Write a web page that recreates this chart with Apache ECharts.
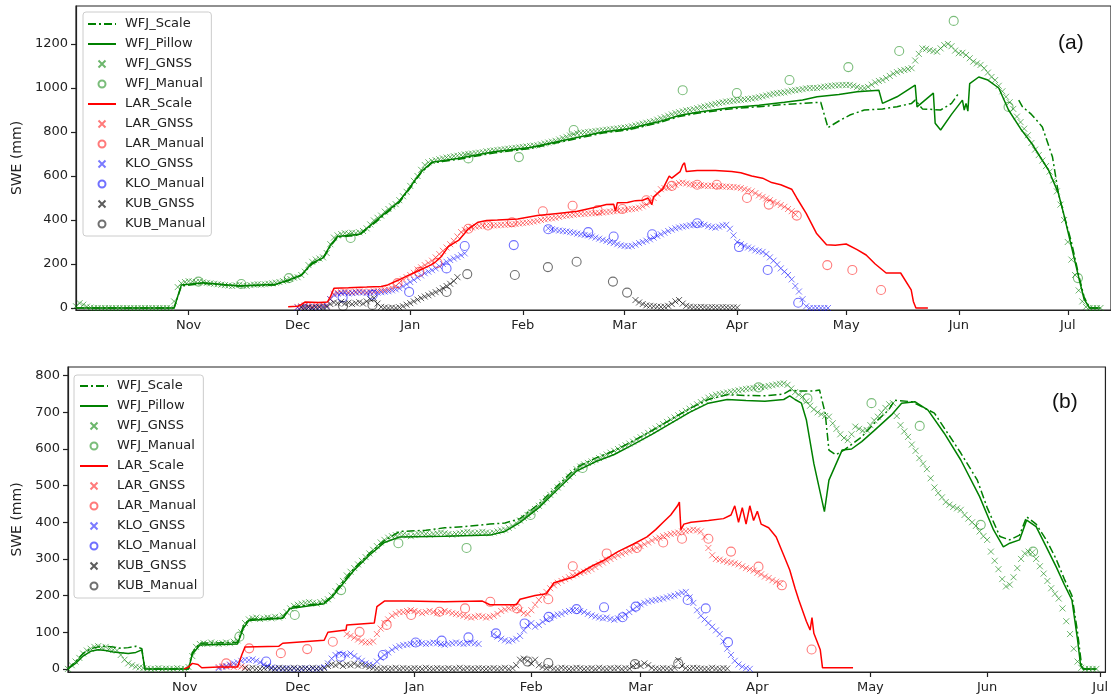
<!DOCTYPE html>
<html>
<head>
<meta charset="utf-8">
<script src="https://cdn.jsdelivr.net/npm/echarts@6/dist/echarts.min.js"></script>
<style>
html,body{margin:0;padding:0;background:#fff;}
#chart{width:1111px;height:696px;}
</style>
</head>
<body>
<div id="chart"></div>
<script>
// ---------- tick labels ----------
const monthNames = ['Nov','Dec','Jan','Feb','Mar','Apr','May','Jun','Jul'];
// day index since 1 Oct of each season
const monthStartsA = [31,61,92,123,151,182,212,243,273];   // panel (a), non-leap
const monthStartsB = [31,61,92,123,152,183,213,244,274];   // panel (b), leap
const yTicksA = [0,200,400,600,800,1000,1200];
const yTicksB = [0,100,200,300,400,500,600,700,800];
const legendNames = ['WFJ_Scale','WFJ_Pillow','WFJ_GNSS','WFJ_Manual','LAR_Scale','LAR_GNSS','LAR_Manual','KLO_GNSS','KLO_Manual','KUB_GNSS','KUB_Manual'];
const lineNames = ['WFJ_Scale','WFJ_Pillow','LAR_Scale'];

// ---------- panel (a) data : [day, SWE] pairs or daily values from a start day ----------
const wfjGnssA_start = 0;
const wfjGnssA = [
 8,22,15,6,2,0,0,0,0,0, 0,0,0,0,0,0,0,0,0,0, 0,0,0,0,0,0,0,30,95,112,
 118,122,120,118,121,117,114,112,110,108, 106,104,102,100,103,106,102,100,104,106,
 108,106,108,110,112,115,118,122,128,132, 138,140,150,165,195,210,220,225,230,250,
 290,320,330,336,340,338,342,340,344,350, 362,380,398,410,420,438,450,462,472,490,
 508,528,555,578,600,628,650,662,668,672, 676,680,684,686,690,692,695,698,700,702,
 704,706,708,712,714,716,718,720,722,724, 726,728,730,732,734,736,738,740,744,748,
 752,756,760,766,772,778,784,790,794,796, 798,800,802,804,806,808,810,812,814,816,
 818,820,822,826,830,834,838,842,846,850, 856,862,868,874,880,886,890,894,898,900,
 904,908,912,916,920,924,928,932,935,938, 940,942,944,946,948,950,952,955,958,962,
 966,970,974,976,978,980,984,988,990,992, 995,998,1000,1000,1000,1003,1006,1008,1010,1012,
 1012,1014,1014,1014,1010,1005,1000,1000,1005,1015, 1025,1032,1036,1045,1055,1065,1072,1078,1082,1086,
 1090,1125,1155,1180,1178,1172,1168,1165,1180,1195, 1200,1190,1170,1158,1160,1150,1135,1120,1112,1105,
 1090,1070,1050,1036,1010,985,960,935,905,870, 845,815,785,750,720,695,670,645,620,580,
 530,470,400,300,220,150,80,30,5,0, 0,0,0
];
const wfjPillowA = [[0,0],[27,0],[29,105],[35,115],[45,100],[55,108],[59,130],[62,150],[65,205],[68,228],[70,285],[72,325],[78,335],[81,375],[85,430],[89,485],[92,550],[95,620],[98,662],[105,680],[115,710],[125,730],[135,765],[145,800],[152,815],[160,845],[166,875],[171,890],[180,910],[188,922],[195,935],[200,945],[204,960],[210,970],[215,983],[221,990],[222,930],[226,960],[231,1013],[231.5,914],[236,977],[236.5,840],[238,809],[241,880],[244,945],[244.5,900],[245,930],[245.5,895],[246,1020],[248.5,1050],[251,1036],[254,1000],[256.7,900],[260,815],[263,750],[267.7,627],[270.4,522],[272,420],[274,280],[276,140],[277.5,40],[279,0],[282,0]];
const wfjScaleA = [[0,0],[27,0],[29,100],[35,112],[45,100],[55,105],[59,128],[62,148],[65,200],[68,225],[70,280],[72,322],[78,332],[81,370],[85,425],[89,480],[92,545],[95,615],[98,660],[105,675],[115,705],[125,725],[135,760],[145,795],[152,810],[160,840],[166,870],[171,885],[180,905],[188,915],[195,925],[200,930],[205,935],[207,820],[210,850],[213,877],[217,900],[222,905],[226,915],[230,930],[231,945],[233,905],[238,900],[241,930],[243,977],[250,null],[259.5,945],[260.5,915],[263,880],[266,823],[268.8,686],[270.4,523],[272,420],[274,300],[276,150],[277.5,50],[279,0],[282,0]];
const wfjManualA = [[33.7,120],[45.5,109],[58.6,136],[75.6,318],[108,680],[121.9,686],[137,809],[167,990],[181.9,977],[196.4,1036],[212.6,1095],[226.6,1168],[241.6,1305],[256.7,914],[275.8,136]];

const larScaleA = [[58.4,6],[61,8],[62,15],[63,27],[67,25],[69.2,27],[70,50],[71,90],[75,92],[80,95],[84,98],[85.8,105],[88.8,127],[91,145],[93.7,165],[95,175],[97.6,195],[99,210],[100.5,233],[102.5,279],[104,295],[105.4,309],[107,340],[108,360],[110.7,390],[113,398],[116,400],[121.6,405],[127,420],[132.6,430],[138,440],[143.6,460],[146,470],[148,472],[148.5,440],[149,478],[151.8,480],[154,488],[156,490],[157.5,500],[158.5,470],[159,505],[160,520],[161.5,540],[162.7,580],[163.3,600],[164,590],[165.5,610],[166.3,620],[167,650],[167.5,660],[168,620],[171,625],[176,625],[180.5,620],[183,615],[186,600],[189,590],[191.5,570],[194,560],[197,540],[198.4,500],[201,430],[203.8,340],[206.6,288],[209,285],[212,291],[215,265],[217.5,241],[220,200],[223,159],[227,159],[229.9,82],[230.5,30],[231.2,0],[234.5,0]];
const larGnssA_start = 61;
const larGnssA = [
 5,8,12,10,8,12,10,15,12,40, 65,70,72,75,72,70,74,76,75,72,
 74,76,78,80,82,85,90,100,115,130, 140,150,160,175,185,195,205,215,230,245,
 260,275,290,305,325,345,355,362,366,370, 372,374,375,376,375,376,378,378,380,380,
 382,384,386,388,390,393,396,400,403,406, 408,410,414,418,420,422,424,426,428,428,
 430,430,431,432,434,436,438,440,442,444, 446,448,450,452,456,462,470,480,500,520,
 540,545,548,552,560,568,570,566,562,560, 560,558,556,555,556,555,553,552,552,550,
 550,548,545,540,535,530,522,512,505,498, 490,482,475,468,460,450,440,425
];
const larManualA = [[88.5,113],[94.5,164],[99.5,205],[108,360],[113.4,375],[120,390],[128.5,440],[136.7,465],[143.6,445],[150.4,450],[157,490],[164,555],[171,560],[176.4,560],[184.7,500],[190.7,470],[198.4,420],[206.8,195],[213.7,173],[221.6,82]];

const kloGnssA1_start = 61;
const kloGnssA1 = [
 2,5,8,5,3,6,4,8,10,40, 60,65,68,70,66,68,70,72,70,68,
 70,72,70,72,74,76,80,85,90,98, 108,118,128,138,148,158,165,172,180,190,
 200,210,218,225,232,240,248
];
const kloGnssA2_start = 130;
const kloGnssA2 = [
 362,358,355,352,350,348,345,342,338,335, 332,330,325,320,315,310,305,300,295,290,
 285,282,280,282,288,295,300,306,312,320, 328,335,342,350,356,362,366,370,372,376,
 378,380,382,378,372,368,365,370,375,378, 360,330,300,290,282,275,270,262,258,255,
 245,230,215,198,180,165,150,130,100,75, 40,8,0,0,0,0,0,0
];
const kloManualA = [[73.4,48],[81.7,60],[91.7,73],[102,180],[107,282],[120.5,286],[130,358],[141,345],[148,325],[158.6,335],[171,385],[182.5,277],[190.4,173],[198.8,24]];

const kubGnssA1_start = 62;
const kubGnssA1 = [
 2,0,3,0,2,4,2,5,18,25, 22,28,20,24,18,22,26,20,30,40,
 45,20,5,2,0,2,0,3,8,15, 22,30,38,45,52,58,65,72,80,90,
 100,110,122,140
];
const kubGnssA2_start = 154;
const kubGnssA2 = [36,25,18,12,10,8,6,5,6,10, 18,30,36,20,10,6,4,3,5,4, 2,4,3,2,4,3,2,3,2];
const kubManualA = [[73.5,9],[81.6,14],[102,73],[107.7,154],[120.8,150],[129.9,186],[137.8,210],[147.8,120],[151.7,70]];

// ---------- panel (b) data ----------
const wfjGnssB_start = 0;
const wfjGnssB = [
 0,10,20,30,42,50,55,60,62,58, 60,55,52,50,38,25,15,10,6,4,
 2,1,0,0,2,0,1,0,0,2, 0,0,5,35,60,68,70,68,72,70,
 68,70,72,70,74,78,100,125,135,138, 140,136,138,140,138,142,140,145,155,165,
 172,175,178,180,182,180,178,182,185,190, 200,212,225,240,255,265,275,285,295,305,
 315,325,335,345,352,358,362,365,368,366, 364,362,365,368,370,368,366,368,370,372,
 370,368,366,368,370,372,374,372,370,372, 374,372,370,372,375,378,380,385,390,398,
 405,412,420,428,436,445,455,465,475,485, 495,505,515,525,535,545,552,558,562,566,
 570,575,580,585,590,595,600,605,610,615, 620,626,632,638,644,650,656,662,668,674,
 680,686,692,698,704,710,716,722,728,734, 740,744,748,750,752,754,756,758,760,762,
 764,765,766,768,769,770,772,774,776,778, 779,775,765,755,748,743,730,718,708,700,
 695,690,688,670,655,640,630,624,640,661, 655,650,652,665,678,688,700,712,722,725,
 690,665,648,633,612,595,575,560,545,520, 495,480,468,455,448,442,438,434,420,410,
 400,390,375,362,352,320,295,272,245,225, 230,250,275,300,315,320,318,300,280,260,
 240,220,205,192,165,130,95,55,20,3, 0,0,0,0
];
const wfjPillowB = [[0,0],[2,15],[4,35],[6,48],[8,52],[10,50],[12,46],[14,44],[16,42],[18,45],[19.6,52],[20.4,0],[32,0],[33,40],[35,65],[45,68],[46.5,110],[48,132],[57,138],[59,165],[68,178],[70,195],[72,220],[76,270],[80,310],[84,345],[88,360],[100,362],[112,365],[116,375],[120,400],[125,440],[130,490],[135,540],[140,565],[145,585],[150,612],[155,640],[160,670],[165,700],[170,725],[175,735],[180,732],[185,730],[190,735],[191.6,745],[193,735],[194.7,725],[196,680],[198,560],[200.8,429],[202,515],[205.5,597],[208,600],[210.7,620],[214,650],[218.6,693],[221.3,725],[224.8,729],[228.3,706],[232.6,643],[237,570],[242,470],[245.7,379],[248.3,333],[250,343],[252.6,352],[254.5,406],[257,388],[259.7,333],[262.3,279],[264.5,230],[266.5,188],[268,80],[268.8,10],[269.5,0],[273,0]];
const wfjScaleB = [[0,0],[2,20],[4,42],[6,55],[8,60],[10,62],[12,60],[14,56],[16,58],[18,62],[19.6,55],[20.4,0],[32,0],[33,45],[35,70],[45,72],[46.5,115],[48,135],[57,140],[59,168],[68,180],[70,198],[72,225],[76,275],[80,315],[84,350],[88,375],[95,378],[100,385],[105,388],[112,395],[116,398],[120,410],[125,450],[130,500],[135,550],[140,575],[145,595],[150,622],[155,650],[160,680],[165,710],[170,735],[175,748],[180,746],[185,745],[190,750],[191.6,760],[195,758],[198,758],[199.5,761],[201,698],[202,597],[203.8,584],[206,597],[210.7,633],[214,670],[217.8,706],[219.5,733],[224,729],[230,698],[237,589],[241.4,515],[244,440],[247.4,361],[250,352],[252.6,365],[254.5,415],[257,395],[259.7,352],[262.3,300],[264.5,245],[266.5,200],[268,100],[269,15],[269.5,0],[273,0]];
const wfjManualB = [[45.5,88],[60.2,147],[72.5,215],[87.7,343],[105.8,330],[122.8,420],[136.6,548],[183.3,768],[196.3,738],[213.3,725],[226.1,663],[242.3,393],[256.2,320]];

const larScaleB = [[30.8,0],[32,5],[33,15],[34.5,12],[35.5,3],[40,5],[45,5],[46.2,40],[47,60],[56,62],[57,70],[68,78],[69,100],[73.8,106],[74,120],[81.3,125],[82,170],[84,185],[90,185],[100,183],[110,185],[112,175],[119,175],[120,190],[124,200],[127,205],[129,235],[134,250],[139,280],[142,295],[146,320],[150,340],[153.7,360],[156,380],[158,400],[160,420],[161.8,445],[162.3,455],[162.7,380],[163.5,395],[165.4,400],[170,405],[174,410],[176,420],[177,445],[178,400],[179,440],[180,395],[181,445],[182,405],[183,430],[184,395],[186,385],[188,360],[190,310],[191.6,270],[193,220],[194,188],[196,130],[197,106],[197.5,140],[198,97],[199.7,52],[200.3,3],[208.4,3]];
const larGnssB1_start = 40;
const larGnssB1 = [5,8,6,10,5,8,6,4];
const larGnssB2_start = 74;
const larGnssB2 = [
 95,90,85,80,75,72,72,75,95,110, 125,135,145,150,155,155,158,160,158,155,
 152,155,158,155,152,155,158,155,152,150, 148,145,142,140,142,145,143,140,142,145,
 150,158,162,165,168,165,160,152,150,160, 175,188,200,210,220,228,235,240,245,250,
 255,258,262,265,268,272,278,285,290,295, 300,305,310,314,318,322,326,330,335,340,
 345,350,355,358,362,365,368,370,372,375, 376,378,380,378,375,360,330,310,300,298,
 295,292,290,288,285,280,275,272,268,262, 258,252,248,242,238,232
];
const larManualB = [[42,15],[48.1,56],[56.5,43],[63.5,54],[70.3,74],[77.4,101],[84.6,120],[91.1,147],[98.6,156],[105.4,165],[112.1,183],[119.2,165],[127.5,190],[134,280],[143,315],[151,330],[158,345],[163,355],[170,355],[176,320],[183.3,279],[189.5,228],[197.4,53]];

const kloGnssB1_start = 40;
const kloGnssB1 = [
 2,5,8,12,15,18,22,25,24,26, 22,18,12,8,4,2,1,0,2,0,
 1,0,0,2,0,1,0,2,5,15, 28,38,42,40,38,42,35,28,22,15,
 12,10,20,30,38,45,52,58,62,65, 66,68,70,72,70,68,70,72,70,68,
 66,68,70,72,70,68,70,72,70,68
];
const kloGnssB2_start = 113;
const kloGnssB2 = [
 95,88,82,78,75,78,82,90,105,118, 125,115,120,128,135,140,145,148,150,155,
 158,160,162,158,155,150,146,143,140,138, 140,136,134,138,142,148,155,162,170,176,
 180,184,186,188,190,192,195,198,200,204, 208,210,195,180,160,145,135,125,115,105,
 95,75,55,38,22,12,6,2,0
];
const kloManualB = [[52.6,20],[72.4,33],[83.6,38],[92.3,72],[99.2,77],[106.3,86],[113.6,97],[121.2,124],[127.6,142],[135,163],[142.3,168],[147.2,141],[150.7,170],[164.5,188],[169.3,165],[175.2,73]];

const kubGnssB_start = 47;
const kubGnssB = [
 2,0,3,1,0,2,4,1,0,3, 2,0,1,3,0,2,1,0,3,1,
 0,2,8,12,10,15,8,12,10,14, 9,12,8,5,3,1,0,2,0,1,
 3,0,2,1,0,2,1,0,3,1, 0,2,1,0,2,0,1,3,0,2,
 1,0,2,1,0,1,2,0,1,3, 0,2,10,25,28,22,15,25,10,5,
 2,4,1,0,3,2,0,1,3,2, 0,1,2,0,3,1,0,2,1,3,
 0,2,1,8,13,8,15,10,3,1, 0,2,1,0,3,24,8,2,1,3,
 2,1,0,0,3,1,0,2,1
];
const kubManualB = [[122,20],[127.5,16],[150.5,13],[162,15]];

// ---------- build ----------
const seq = (start, vals) => vals.map((v, i) => [start + i, v]);
const FONT = 'DejaVu Sans';
const COL = {g:'#008000', r:'#ff0000', b:'#0000ff', k:'#000000'};
const XCOL = {g:'rgba(0,128,0,0.72)', r:'rgba(255,0,0,0.65)', b:'rgba(0,0,255,0.65)', k:'rgba(0,0,0,0.8)'};
const OCOL = {g:'rgba(0,128,0,0.65)', r:'rgba(255,0,0,0.65)', b:'rgba(0,0,255,0.7)', k:'rgba(0,0,0,0.7)'};
const XPATH = 'path://M0,0L10,10M10,0L0,10';

function lineS(name, data, gi, c, dash) {
  return {name, type:'line', xAxisIndex:gi, yAxisIndex:gi, data, symbol:'none', showSymbol:false,
    connectNulls:false, animation:false, z:3,
    lineStyle:{color:c, width:1.5, type: dash ? [8,3,2,3] : 'solid'}, itemStyle:{color:c}};
}
function xS(name, data, gi, c) {
  return {name, type:'scatter', xAxisIndex:gi, yAxisIndex:gi, data, symbol:XPATH, symbolSize:6,
    animation:false, z:2, itemStyle:{color:'transparent', borderColor:c, borderWidth:1}};
}
function oS(name, data, gi, c) {
  return {name, type:'scatter', xAxisIndex:gi, yAxisIndex:gi, data, symbol:'circle', symbolSize:9,
    animation:false, z:4, itemStyle:{color:'transparent', borderColor:c, borderWidth:1.1}};
}

function panel(gi, d) {
  return [
    lineS('WFJ_Scale', d.wfjScale, gi, COL.g, true),
    lineS('WFJ_Pillow', d.wfjPillow, gi, COL.g, false),
    xS('WFJ_GNSS', d.wfjGnss, gi, XCOL.g),
    oS('WFJ_Manual', d.wfjManual, gi, OCOL.g),
    lineS('LAR_Scale', d.larScale, gi, COL.r, false),
    xS('LAR_GNSS', d.larGnss, gi, XCOL.r),
    oS('LAR_Manual', d.larManual, gi, OCOL.r),
    xS('KLO_GNSS', d.kloGnss, gi, XCOL.b),
    oS('KLO_Manual', d.kloManual, gi, OCOL.b),
    xS('KUB_GNSS', d.kubGnss, gi, XCOL.k),
    oS('KUB_Manual', d.kubManual, gi, OCOL.k)
  ];
}

const seriesA = panel(0, {
  wfjScale: wfjScaleA, wfjPillow: wfjPillowA, wfjGnss: seq(wfjGnssA_start, wfjGnssA), wfjManual: wfjManualA,
  larScale: larScaleA, larGnss: seq(larGnssA_start, larGnssA), larManual: larManualA,
  kloGnss: seq(kloGnssA1_start, kloGnssA1).concat(seq(kloGnssA2_start, kloGnssA2)), kloManual: kloManualA,
  kubGnss: seq(kubGnssA1_start, kubGnssA1).concat(seq(kubGnssA2_start, kubGnssA2)), kubManual: kubManualA
});
const seriesB = panel(1, {
  wfjScale: wfjScaleB, wfjPillow: wfjPillowB, wfjGnss: seq(wfjGnssB_start, wfjGnssB), wfjManual: wfjManualB,
  larScale: larScaleB, larGnss: seq(larGnssB1_start, larGnssB1).concat(seq(larGnssB2_start, larGnssB2)), larManual: larManualB,
  kloGnss: seq(kloGnssB1_start, kloGnssB1).concat(seq(kloGnssB2_start, kloGnssB2)), kloManual: kloManualB,
  kubGnss: seq(kubGnssB_start, kubGnssB), kubManual: kubManualB
});

function xAxis(gi, starts, max) {
  return {type:'value', gridIndex:gi, min:0, max, splitLine:{show:false},
    axisLine:{onZero:false, lineStyle:{color:'#222', width:1.2}},
    axisTick:{customValues:starts, length:5, lineStyle:{color:'#222', width:1.2}},
    axisLabel:{customValues:starts, margin:9, color:'#222', fontFamily:FONT, fontSize:13,
      formatter: v => monthNames[starts.indexOf(v)] || ''}};
}
function yAxis(gi, ticks, min, max, gapN) {
  return {type:'value', gridIndex:gi, min, max, splitLine:{show:false},
    name:'SWE (mm)', nameLocation:'middle', nameRotate:90, nameGap:gapN,
    nameTextStyle:{fontFamily:FONT, fontSize:14, color:'#222'},
    axisLine:{show:true, onZero:false, lineStyle:{color:'#222', width:1.2}},
    axisTick:{show:true, customValues:ticks, length:5, lineStyle:{color:'#222', width:1.2}},
    axisLabel:{customValues:ticks, margin:8, color:'#222', fontFamily:FONT, fontSize:13,
      formatter: v => String(v)}};
}
const legendData = legendNames.map(n => lineNames.indexOf(n) >= 0
  ? {name:n, itemStyle:{opacity:0, borderWidth:0}} : {name:n});
function legend(left, top, pad) {
  return {orient:'vertical', left, top, data:legendData, selectedMode:false,
    itemWidth:28, itemHeight:7, itemGap:0, padding:pad,
    backgroundColor:'rgba(255,255,255,0.85)', borderColor:'#cccccc', borderWidth:1, borderRadius:3,
    textStyle:{fontFamily:FONT, fontSize:13, color:'#222', lineHeight:20, padding:[0,0,0,4]}};
}

const option = {
  animation:false,
  textStyle:{fontFamily:FONT},
  grid:[
    {left:76, top:6, width:1040, height:304, show:true, borderColor:'#222', borderWidth:1.2, backgroundColor:'transparent'},
    {left:68, top:367, width:1052, height:305, show:true, borderColor:'#222', borderWidth:1.2, backgroundColor:'transparent'}
  ],
  xAxis:[xAxis(0, monthStartsA, 284.9), xAxis(1, monthStartsB, 275.4)],
  yAxis:[yAxis(0, yTicksA, -9.1, 1372.7, 45), yAxis(1, yTicksB, -8.5, 823.7, 38)],
  legend:[legend(83, 12, [2,6,2,4]), legend(74, 375, [1,6,2,5])],
  graphic:[
    {type:'text', left:1058, top:33, style:{text:'(a)', font:'21px "Liberation Sans"', fill:'#111'}},
    {type:'text', left:1052, top:392, style:{text:'(b)', font:'21px "Liberation Sans"', fill:'#111'}}
  ],
  series: seriesA.concat(seriesB)
};
const chart = echarts.init(document.getElementById('chart'), null, {renderer:'canvas'});
chart.setOption(option);
</script>
</body>
</html>
